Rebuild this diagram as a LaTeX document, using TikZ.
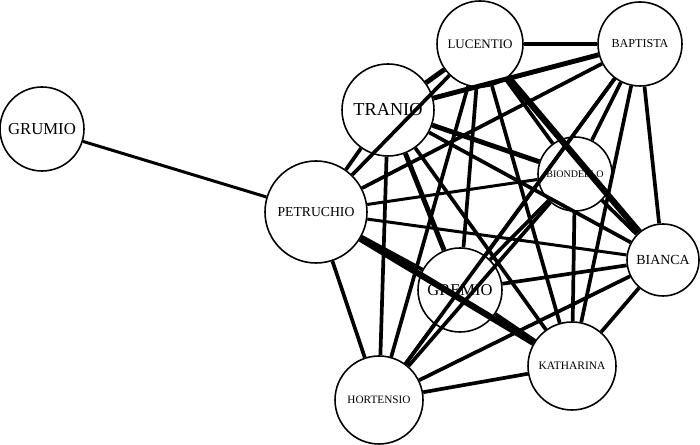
\documentclass[tikz,border=0pt]{standalone}
\usepackage{fontspec}
\setmainfont{Liberation Serif}
\usepackage{tikz}

\tikzset{
  role/.style={circle, draw, line width=0.9pt, fill=white, inner sep=0pt},
  tie/.style={line width=2.1pt},
  weak/.style={line width=1.7pt},
  strong/.style={line width=2.8pt},
  heavy/.style={line width=3.6pt}
}

\begin{document}
\begin{tikzpicture}
  \useasboundingbox (0,0) rectangle (14,8.9);

  % characters
  \node[role, minimum size=1.68cm, font=\fontsize{9.5}{10}\selectfont] (grumio) at (0.84,6.32) {GRUMIO}; %
  \node[role, minimum size=2.04cm, font=\fontsize{7.8}{9}\selectfont] (petruchio) at (6.32,4.66) {PETRUCHIO}; %
  \node[role, minimum size=1.84cm, font=\fontsize{10.4}{11}\selectfont] (tranio) at (7.76,6.70) {TRANIO}; %
  \node[role, minimum size=1.72cm, font=\fontsize{7.4}{8}\selectfont] (lucentio) at (9.60,8.02) {LUCENTIO}; %
  \node[role, minimum size=1.68cm, font=\fontsize{6.9}{8}\selectfont] (baptista) at (12.80,8.02) {BAPTISTA}; %
  \node[role, minimum size=1.48cm, font=\fontsize{5.7}{7}\selectfont] (biondello) at (11.50,5.42) {BIONDELLO}; %
  \node[role, minimum size=1.44cm, font=\fontsize{7.9}{9}\selectfont] (bianca) at (13.26,3.70) {BIANCA}; %
  \node[role, minimum size=1.68cm, font=\fontsize{9.4}{10}\selectfont] (gremio) at (9.20,3.10) {GREMIO}; %
  \node[role, minimum size=1.76cm, font=\fontsize{6.5}{8}\selectfont] (katharina) at (11.44,1.58) {KATHARINA}; %
  \node[role, minimum size=1.76cm, font=\fontsize{6.4}{8}\selectfont] (hortensio) at (7.58,0.90) {HORTENSIO}; %

  % ties
  \foreach \a/\b in {grumio/petruchio, petruchio/biondello, petruchio/bianca}
    \draw[weak] (\a) -- (\b);
  \foreach \a/\b in {lucentio/bianca, petruchio/katharina}
    \draw[heavy] (\a) -- (\b);
  \foreach \a/\b in {lucentio/baptista, tranio/lucentio, tranio/baptista,
                     tranio/biondello, tranio/gremio}
    \draw[strong] (\a) -- (\b);
  \foreach \a/\b in {petruchio/tranio, petruchio/lucentio, petruchio/baptista,
                     petruchio/hortensio, petruchio/gremio,
                     tranio/bianca, tranio/katharina, tranio/hortensio,
                     lucentio/biondello, lucentio/gremio, lucentio/katharina, lucentio/hortensio,
                     baptista/biondello, baptista/bianca, baptista/gremio,
                     baptista/katharina, baptista/hortensio,
                     biondello/bianca, biondello/gremio, biondello/katharina, biondello/hortensio,
                     bianca/gremio, bianca/katharina, bianca/hortensio,
                     gremio/katharina, gremio/hortensio, katharina/hortensio}
    \draw[tie] (\a) -- (\b);

\end{tikzpicture}
\end{document}
